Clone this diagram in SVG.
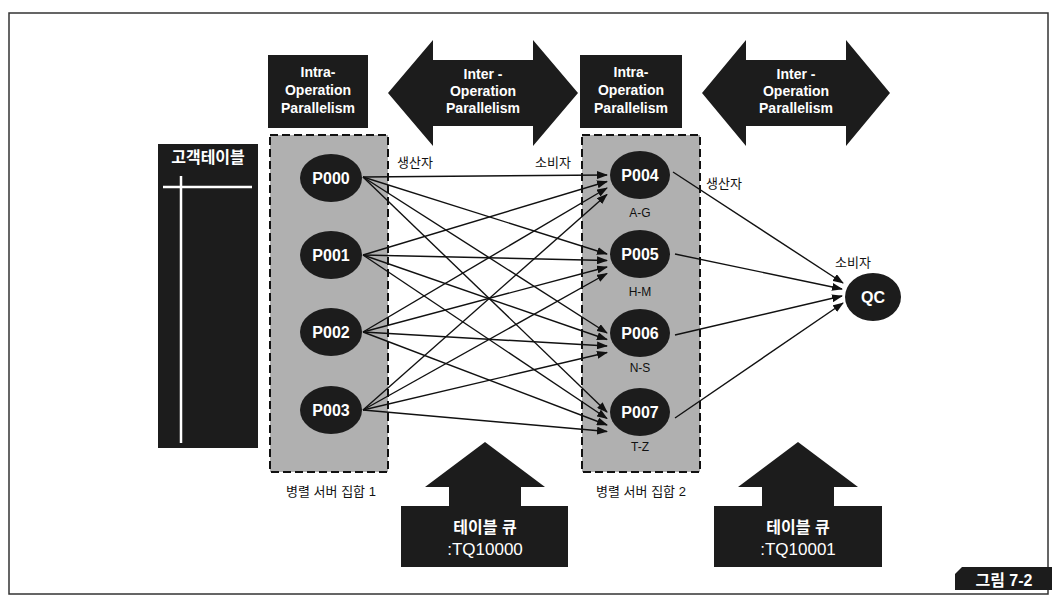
<svg xmlns="http://www.w3.org/2000/svg" width="1064" height="602" viewBox="0 0 1064 602">
<style>
text{font-family:"Liberation Sans","Noto Sans CJK KR",sans-serif}
.blk{fill:#1c1c1c}
.wb{fill:#fff;font-weight:bold;text-anchor:middle}
.hd{font-size:14px}
.pn{font-size:16px}
.lbl{fill:#111;font-size:13px;text-anchor:middle}
.rng{fill:#111;font-size:12px;text-anchor:middle}
.set{fill:#b0b0b0;stroke:#111;stroke-width:2;stroke-dasharray:8 4}
.cn line{stroke:#111;stroke-width:1.4;marker-end:url(#ah)}
</style>
<defs>
<marker id="ah" markerUnits="userSpaceOnUse" markerWidth="11" markerHeight="8" refX="10" refY="4" orient="auto">
<path d="M0,0 L11,4 L0,8 z" fill="#111"/>
</marker>
</defs>
<rect x="0" y="0" width="1064" height="602" fill="#fff"/>
<rect x="9" y="13" width="1039" height="581" fill="none" stroke="#333" stroke-width="1.5"/>

<g id="intra1">
<rect class="blk" x="268" y="55" width="100" height="73"/>
<text class="wb hd" x="318" y="77">Intra-</text>
<text class="wb hd" x="318" y="95">Operation</text>
<text class="wb hd" x="318" y="113">Parallelism</text>
</g>
<g id="inter1">
<path class="blk" d="M388,93 L433,40 L433,60 L533,60 L533,40 L578,93 L533,146 L533,126 L433,126 L433,146 z"/>
<text class="wb hd" x="483" y="79">Inter -</text>
<text class="wb hd" x="483" y="96">Operation</text>
<text class="wb hd" x="483" y="113">Parallelism</text>
</g>
<g id="intra2">
<rect class="blk" x="580" y="55" width="102" height="73"/>
<text class="wb hd" x="631" y="77">Intra-</text>
<text class="wb hd" x="631" y="95">Operation</text>
<text class="wb hd" x="631" y="113">Parallelism</text>
</g>
<g id="inter2">
<path class="blk" d="M702,93 L746,40 L746,60 L846,60 L846,40 L890,93 L846,146 L846,126 L746,126 L746,146 z"/>
<text class="wb hd" x="796" y="79">Inter -</text>
<text class="wb hd" x="796" y="96">Operation</text>
<text class="wb hd" x="796" y="113">Parallelism</text>
</g>

<g id="table">
<rect class="blk" x="158" y="144" width="100" height="304"/>
<text class="wb" x="208" y="163" font-size="16">고객테이블</text>
<line x1="163" y1="187" x2="252" y2="187" stroke="#fff" stroke-width="2.5"/>
<line x1="181" y1="176" x2="181" y2="443" stroke="#fff" stroke-width="2.5"/>
</g>

<g id="set1">
<rect class="set" x="270" y="135" width="118" height="337"/>
<text class="lbl" x="331" y="496">병렬 서버 집합 1</text>
</g>
<g id="set2">
<rect class="set" x="582" y="135" width="118" height="337"/>
<text class="lbl" x="641" y="496">병렬 서버 집합 2</text>
</g>

<g id="P000"><ellipse class="blk" cx="331" cy="178" rx="31" ry="24"/><text class="wb pn" x="331" y="184">P000</text></g>
<g id="P001"><ellipse class="blk" cx="331" cy="255" rx="31" ry="24"/><text class="wb pn" x="331" y="261">P001</text></g>
<g id="P002"><ellipse class="blk" cx="331" cy="332" rx="31" ry="24"/><text class="wb pn" x="331" y="338">P002</text></g>
<g id="P003"><ellipse class="blk" cx="331" cy="410" rx="31" ry="24"/><text class="wb pn" x="331" y="416">P003</text></g>

<g id="P004"><ellipse class="blk" cx="640" cy="175" rx="30" ry="24"/><text class="wb pn" x="640" y="181">P004</text><text class="rng" x="640" y="217">A-G</text></g>
<g id="P005"><ellipse class="blk" cx="640" cy="254" rx="30" ry="24"/><text class="wb pn" x="640" y="260">P005</text><text class="rng" x="640" y="296">H-M</text></g>
<g id="P006"><ellipse class="blk" cx="640" cy="333" rx="30" ry="24"/><text class="wb pn" x="640" y="339">P006</text><text class="rng" x="640" y="372">N-S</text></g>
<g id="P007"><ellipse class="blk" cx="640" cy="412" rx="30" ry="24"/><text class="wb pn" x="640" y="418">P007</text><text class="rng" x="640" y="451">T-Z</text></g>

<g id="QC"><ellipse class="blk" cx="873" cy="297" rx="28" ry="24"/><text class="wb pn" x="873" y="303">QC</text></g>

<g id="labels">
<text class="lbl" x="415" y="167">생산자</text>
<text class="lbl" x="553" y="167">소비자</text>
<text class="lbl" x="724" y="188">생산자</text>
<text class="lbl" x="853" y="267">소비자</text>
</g>

<g id="connectors" class="cn">
<line x1="363" y1="177" x2="607" y2="175"/>
<line x1="363" y1="177" x2="607" y2="254"/>
<line x1="363" y1="177" x2="607" y2="333"/>
<line x1="363" y1="177" x2="607" y2="412"/>
<line x1="363" y1="255" x2="607" y2="181.5"/>
<line x1="363" y1="255" x2="607" y2="260.5"/>
<line x1="363" y1="255" x2="607" y2="339.5"/>
<line x1="363" y1="255" x2="607" y2="418.5"/>
<line x1="363" y1="332" x2="607" y2="188"/>
<line x1="363" y1="332" x2="607" y2="267"/>
<line x1="363" y1="332" x2="607" y2="346"/>
<line x1="363" y1="332" x2="607" y2="425"/>
<line x1="363" y1="410" x2="607" y2="194.5"/>
<line x1="363" y1="410" x2="607" y2="273.5"/>
<line x1="363" y1="410" x2="607" y2="352.5"/>
<line x1="363" y1="410" x2="607" y2="431.5"/>
<line x1="673" y1="172" x2="843" y2="283"/>
<line x1="675" y1="254" x2="842" y2="289"/>
<line x1="675" y1="335" x2="842" y2="296"/>
<line x1="675" y1="418" x2="843" y2="303"/>
</g>

<g id="tq1">
<path class="blk" d="M485,442 L545,487 L521,487 L521,506 L568,506 L568,567 L401,567 L401,506 L449,506 L449,487 L425,487 z"/>
<text class="wb" x="485" y="533" font-size="16">테이블 큐</text>
<text x="485" y="555" font-size="17" fill="#fff" text-anchor="middle">:TQ10000</text>
</g>
<g id="tq2">
<path class="blk" d="M798,442 L858,487 L834,487 L834,506 L882,506 L882,567 L714,567 L714,506 L762,506 L762,487 L738,487 z"/>
<text class="wb" x="798" y="533" font-size="16">테이블 큐</text>
<text x="798" y="555" font-size="17" fill="#fff" text-anchor="middle">:TQ10001</text>
</g>

<g id="figlabel">
<path class="blk" d="M962,567 L1052,567 L1052,590 L955,590 L955,574 z"/>
<text class="wb" x="1004" y="586" font-size="16">그림 7-2</text>
</g>
</svg>
